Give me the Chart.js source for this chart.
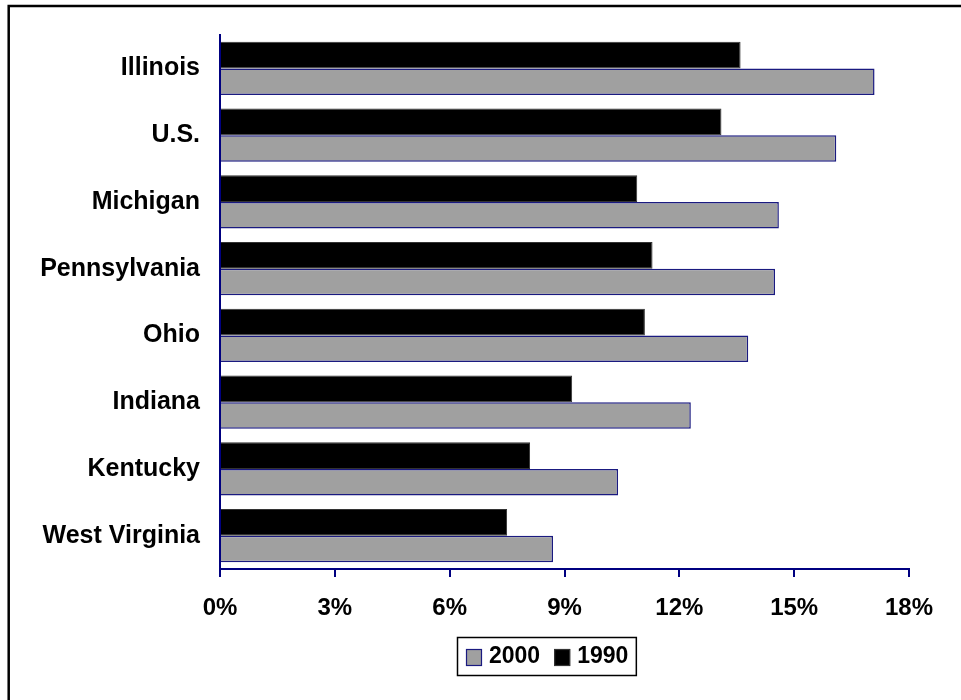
<!DOCTYPE html>
<html>
<head>
<meta charset="utf-8">
<script src="https://cdn.jsdelivr.net/npm/chart.js@4.4.1/dist/chart.umd.min.js"></script>
<style>
body { margin: 0; background: #fff; }
#grafico { display: block; }
</style>
</head>
<body>
<canvas id="grafico" width="961" height="700"></canvas>
<script>
// datos (porcentajes)
const estados = ["Illinois", "U.S.", "Michigan", "Pennsylvania", "Ohio", "Indiana", "Kentucky", "West Virginia"];
const valores1990 = [13.6, 13.1, 10.9, 11.3, 11.1, 9.2, 8.1, 7.5];
const valores2000 = [17.1, 16.1, 14.6, 14.5, 13.8, 12.3, 10.4, 8.7];
const ticksX = [0, 3, 6, 9, 12, 15, 18];

const AZUL = '#000080';
const GRIS = '#a0a0a0';
const FUENTE = '"Liberation Sans", Arial, sans-serif';

Chart.defaults.font.family = FUENTE;
Chart.defaults.font.size = 24;
Chart.defaults.font.weight = 'bold';
Chart.defaults.color = '#000';

// marco exterior (cortado a la derecha y abajo como en la imagen)
const marcoPlugin = {
    id: 'marco',
    beforeDraw(chart) {
        const ctx = chart.ctx;
        ctx.save();
        ctx.fillStyle = '#fff';
        ctx.fillRect(0, 0, chart.width, chart.height);
        ctx.strokeStyle = '#000';
        ctx.lineWidth = 2.5;
        ctx.strokeRect(8.7, 6, chart.width + 20, chart.height + 20);
        ctx.restore();
    }
};

// leyenda con recuadro: 2000 primero, luego 1990
const leyendaPlugin = {
    id: 'leyendaCaja',
    afterDraw(chart) {
        const ctx = chart.ctx;
        const items = chart.data.datasets.slice().reverse();
        ctx.save();
        ctx.font = 'bold 23px ' + FUENTE;
        ctx.textBaseline = 'middle';
        let x = 466;
        const yCentro = 657;
        items.forEach(ds => {
            ctx.fillStyle = ds.backgroundColor;
            ctx.fillRect(x, yCentro - 8, 16, 17);
            ctx.lineWidth = 1.2;
            ctx.strokeStyle = ds.borderColor;
            ctx.strokeRect(x + 0.5, yCentro - 7.5, 15, 16);
            ctx.fillStyle = '#000';
            ctx.fillText(ds.label, x + 23, yCentro);
            x = x + 23 + ctx.measureText(ds.label).width + 14;
        });
        const derecha = x - 14 + 8;
        ctx.lineWidth = 1.5;
        ctx.strokeStyle = '#000';
        ctx.strokeRect(457.5, 637.5, derecha - 457.5, 38);
        ctx.restore();
    }
};

const ctx = document.getElementById('grafico').getContext('2d');
new Chart(ctx, {
    type: 'bar',
    data: {
        labels: estados,
        datasets: [{
            label: '1990',
            data: valores1990,
            backgroundColor: '#000',
            borderColor: '#333',
            borderWidth: 1,
            categoryPercentage: 0.8,
            barPercentage: 1.0
        }, {
            label: '2000',
            data: valores2000,
            backgroundColor: GRIS,
            borderColor: '#1a1a80',
            borderWidth: 1.5,
            categoryPercentage: 0.8,
            barPercentage: 1.0
        }]
    },
    options: {
        indexAxis: 'y',
        responsive: false,
        animation: false,
        layout: {
            padding: { top: 32, right: 52, left: 0, bottom: 0 }
        },
        plugins: {
            legend: { display: false },
            tooltip: { enabled: false }
        },
        scales: {
            x: {
                min: ticksX[0],
                max: ticksX[ticksX.length - 1],
                afterBuildTicks: scale => {
                    scale.ticks = ticksX.map(v => ({ value: v }));
                },
                afterFit: scale => { scale.height = 131; },
                grid: {
                    display: true,
                    drawOnChartArea: false,
                    drawTicks: true,
                    tickLength: 8,
                    color: AZUL,
                    lineWidth: 2
                },
                border: { display: true, color: AZUL, width: 2 },
                ticks: {
                    padding: 17,
                    maxRotation: 0,
                    callback: v => v + '%'
                }
            },
            y: {
                afterFit: scale => { scale.width = 220; },
                grid: { display: false, drawTicks: false },
                border: { display: true, color: AZUL, width: 2 },
                ticks: { padding: 20, font: { size: 25, weight: 'bold' } }
            }
        }
    },
    plugins: [marcoPlugin, leyendaPlugin]
});
</script>
</body>
</html>
